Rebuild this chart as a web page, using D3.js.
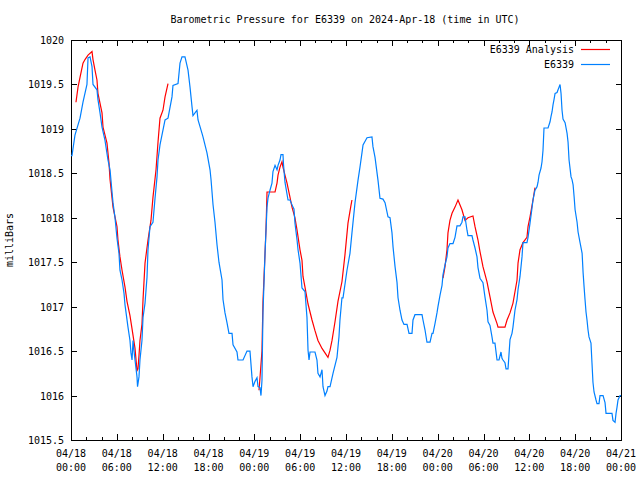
<!DOCTYPE html>
<html><head><meta charset="utf-8">
<script src="https://cdn.jsdelivr.net/npm/d3@7"></script>
<style>body{margin:0;background:#fff}svg{display:block}text{font-family:"DejaVu Sans Mono",monospace;font-size:10px;fill:#000}</style>
</head><body><svg id="c" width="640" height="480"></svg>
<script>
// hours since 2024-04-18 00:00 UTC
const obsHours = [0,0.13,0.52,1.18,1.57,2.09,2.23,2.49,2.75,2.88,3.40,3.53,3.80,4.06,4.45,4.84,5.11,5.37,5.50,5.76,6.02,6.28,6.41,6.68,6.94,7.07,7.46,7.72,7.85,7.99,8.12,8.25,8.38,8.64,8.71,8.90,9.03,9.29,9.43,9.69,9.95,10.08,10.34,10.73,11.00,11.26,11.39,11.65,12.31,12.70,13.22,13.35,14.01,14.27,14.53,14.92,15.32,15.58,15.84,15.97,16.49,16.63,17.15,17.28,17.80,18.20,18.33,18.59,18.85,19.11,19.37,19.77,19.90,20.16,20.42,20.68,21.08,21.21,21.73,21.86,22.52,23.04,23.43,23.69,23.83,24.09,24.35,24.48,24.74,24.87,25.00,25.13,25.40,25.66,25.79,26.05,26.31,26.44,26.71,26.97,27.10,27.36,27.49,27.75,27.82,28.01,28.41,28.67,29.06,29.19,29.32,29.59,29.72,29.98,30.24,30.63,30.89,31.03,31.16,31.29,31.94,32.20,32.33,32.60,32.86,32.99,33.25,33.51,33.64,33.91,34.30,34.82,35.08,35.21,35.47,35.61,36.13,36.52,36.78,37.18,37.57,37.83,38.09,38.23,38.75,39.40,39.53,39.80,40.19,40.45,40.84,41.11,41.50,41.76,42.02,42.16,42.42,42.68,42.81,43.07,43.33,43.59,43.99,44.25,44.64,44.77,45.03,45.95,46.08,46.34,46.60,47.00,47.26,47.39,47.65,47.91,48.04,48.31,48.57,48.70,48.96,49.22,49.35,49.61,50.01,50.27,50.53,50.92,51.18,51.31,51.58,51.84,51.97,52.49,52.62,52.89,53.15,53.28,53.54,53.93,54.19,54.46,54.59,54.85,55.11,55.24,55.50,55.77,56.03,56.29,56.42,56.55,56.81,56.95,57.21,57.47,57.73,57.86,58.12,58.39,58.52,58.78,59.04,59.17,59.69,59.83,60.09,60.35,60.48,60.74,61.01,61.14,61.27,61.53,61.66,61.79,61.92,62.45,62.71,62.84,62.97,63.10,63.23,63.37,63.63,63.76,63.89,64.02,64.15,64.28,64.41,64.68,64.94,65.07,65.20,65.46,65.59,65.73,65.86,65.99,66.25,66.38,66.64,66.91,67.04,67.17,67.29,67.42,67.55,67.68,67.81,68.07,68.20,68.33,68.47,68.73,68.86,69.12,69.25,69.65,69.91,70.04,70.82,70.95,71.22,71.35,71.48,71.61,71.87,72.00];
const obsPressure = [1018.7,1018.7,1018.93,1019.12,1019.3,1019.5,1019.8,1019.81,1019.7,1019.5,1019.44,1019.33,1019.18,1019.02,1018.87,1018.65,1018.54,1018.29,1018.17,1018.0,1017.77,1017.6,1017.41,1017.3,1017.15,1017.02,1016.77,1016.62,1016.48,1016.4,1016.62,1016.5,1016.4,1016.21,1016.1,1016.21,1016.4,1016.62,1016.88,1017.04,1017.33,1017.64,1017.9,1017.95,1018.22,1018.46,1018.65,1018.82,1019.1,1019.12,1019.36,1019.49,1019.51,1019.74,1019.81,1019.81,1019.66,1019.47,1019.25,1019.15,1019.21,1019.1,1018.95,1018.91,1018.73,1018.54,1018.43,1018.15,1017.95,1017.7,1017.5,1017.3,1017.08,1016.93,1016.82,1016.7,1016.7,1016.57,1016.49,1016.4,1016.4,1016.5,1016.5,1016.21,1016.1,1016.16,1016.2,1016.1,1016.09,1016.0,1016.17,1016.93,1017.6,1018.12,1018.22,1018.31,1018.39,1018.52,1018.59,1018.54,1018.59,1018.65,1018.71,1018.71,1018.6,1018.4,1018.2,1018.2,1018.12,1018.1,1017.94,1017.75,1017.64,1017.49,1017.21,1017.17,1016.88,1016.51,1016.4,1016.49,1016.49,1016.4,1016.25,1016.21,1016.29,1016.1,1016.0,1016.05,1016.1,1016.1,1016.25,1016.43,1016.66,1016.85,1017.1,1017.1,1017.41,1017.6,1017.83,1018.17,1018.42,1018.57,1018.73,1018.82,1018.9,1018.91,1018.8,1018.68,1018.42,1018.22,1018.21,1018.17,1018.01,1018.0,1017.83,1017.67,1017.45,1017.27,1017.1,1016.96,1016.85,1016.8,1016.8,1016.7,1016.7,1016.85,1016.91,1016.91,1016.85,1016.74,1016.6,1016.6,1016.7,1016.7,1016.81,1016.93,1017.0,1017.13,1017.24,1017.36,1017.47,1017.56,1017.66,1017.71,1017.71,1017.78,1017.91,1017.91,1017.95,1018.01,1018.01,1017.86,1017.8,1017.8,1017.75,1017.66,1017.56,1017.44,1017.32,1017.27,1017.11,1016.96,1016.83,1016.79,1016.66,1016.59,1016.59,1016.4,1016.4,1016.49,1016.42,1016.4,1016.37,1016.3,1016.3,1016.63,1016.7,1016.77,1016.96,1017.08,1017.19,1017.34,1017.56,1017.72,1017.72,1017.78,1017.94,1018.11,1018.2,1018.31,1018.35,1018.4,1018.48,1018.56,1018.63,1018.76,1019.01,1019.01,1019.08,1019.14,1019.19,1019.27,1019.33,1019.4,1019.41,1019.44,1019.47,1019.5,1019.4,1019.21,1019.11,1019.07,1018.95,1018.85,1018.65,1018.46,1018.43,1018.37,1018.24,1018.09,1017.95,1017.84,1017.72,1017.6,1017.38,1017.22,1017.08,1016.94,1016.85,1016.74,1016.66,1016.59,1016.37,1016.15,1016.04,1015.95,1015.91,1015.91,1016.0,1016.0,1015.92,1015.8,1015.8,1015.72,1015.7,1015.8,1015.87,1015.95,1016.0,1016.0];

// analysis segments (null = gap)
const anaHours = [0.65,0.92,1.18,1.57,1.83,2.23,2.75,2.88,3.14,3.40,3.53,4.06,4.19,4.71,4.97,5.11,5.50,6.02,6.15,6.41,6.68,7.07,7.33,7.72,7.99,8.38,8.64,8.77,8.90,9.03,9.29,9.43,9.69,10.08,10.47,10.73,11.13,11.39,11.65,12.04,12.31,12.70,
  null,
  24.61,24.74,25.00,25.13,25.40,25.53,25.66,26.71,26.97,27.10,27.36,27.62,27.75,28.01,28.28,28.67,28.93,29.32,29.59,29.98,30.24,30.37,30.63,31.03,31.55,31.94,32.33,32.86,33.25,33.64,33.91,34.17,34.56,34.95,35.47,35.86,36.26,36.65,36.78,
  null,
  48.70,48.96,49.22,49.35,49.61,49.88,50.27,50.66,51.18,51.58,51.97,52.62,52.89,53.28,53.54,53.93,54.46,54.85,55.24,55.77,55.90,56.81,57.08,57.47,57.86,58.39,58.52,58.78,59.17,59.69,59.83,60.09,60.48,60.74];
const anaPressure = [1019.3,1019.47,1019.58,1019.74,1019.78,1019.83,1019.87,1019.78,1019.66,1019.55,1019.4,1019.18,1019.02,1018.84,1018.62,1018.43,1018.12,1017.9,1017.75,1017.56,1017.41,1017.22,1017.06,1016.9,1016.75,1016.53,1016.28,1016.3,1016.45,1016.62,1016.8,1017.08,1017.49,1017.75,1017.97,1018.23,1018.54,1018.85,1019.12,1019.21,1019.36,1019.51,
  null,
  1016.06,1016.2,1016.5,1017.05,1017.6,1017.88,1018.29,1018.29,1018.39,1018.48,1018.57,1018.63,1018.57,1018.48,1018.39,1018.23,1018.12,1018.0,1017.86,1017.64,1017.52,1017.34,1017.22,1017.03,1016.85,1016.73,1016.62,1016.53,1016.48,1016.43,1016.51,1016.62,1016.83,1017.06,1017.28,1017.58,1017.94,1018.14,1018.2,
  null,
  1017.32,1017.45,1017.64,1017.83,1017.97,1018.05,1018.12,1018.2,1018.09,1017.97,1018.0,1018.02,1017.9,1017.75,1017.62,1017.45,1017.28,1017.11,1016.94,1016.81,1016.77,1016.77,1016.85,1016.93,1017.04,1017.3,1017.49,1017.64,1017.72,1017.78,1017.9,1018.01,1018.2,1018.34];

const yTicks = [1015.5,1016,1016.5,1017,1017.5,1018,1018.5,1019,1019.5,1020];
const xTickHours = [0,6,12,18,24,30,36,42,48,54,60,66,72];
const xTickDates = ["04/18","04/18","04/18","04/18","04/19","04/19","04/19","04/19","04/20","04/20","04/20","04/20","04/21"];
const xTickTimes = ["00:00","06:00","12:00","18:00","00:00","06:00","12:00","18:00","00:00","06:00","12:00","18:00","00:00"];
const titleText = "Barometric Pressure for E6339 on 2024-Apr-18 (time in UTC)";
const seriesNames = ["E6339 Analysis","E6339"];
const seriesColors = ["#ff0000","#0080ff"];

const svg = d3.select("#c");
const L=71,R=621,T=40,B=440;
const x = d3.scaleLinear().domain([0,72]).range([L,R]);
const y = d3.scaleLinear().domain([1015.5,1020]).range([B,T]);

// frame
svg.append("rect").attr("x",L+0.5).attr("y",T+0.5).attr("width",R-L).attr("height",B-T)
  .attr("fill","none").attr("stroke","#000").attr("stroke-width",1);

// y ticks (both sides, inward)
yTicks.forEach(v=>{
  const yy=Math.round(y(v))+0.5;
  svg.append("line").attr("x1",L).attr("x2",L+6).attr("y1",yy).attr("y2",yy).attr("stroke","#000");
  svg.append("line").attr("x1",R-5).attr("x2",R+1).attr("y1",yy).attr("y2",yy).attr("stroke","#000");
  svg.append("text").attr("x",L-7).attr("y",yy+3.5).attr("text-anchor","end").text(d3.format("")(v));
});
// x minor ticks every 2h
d3.range(0,73,2).forEach(h=>{
  const major = h%6===0;
  const len = major?6:3;
  const xx=Math.round(x(h))+0.5;
  svg.append("line").attr("x1",xx).attr("x2",xx).attr("y1",B).attr("y2",B-len).attr("stroke","#000");
  svg.append("line").attr("x1",xx).attr("x2",xx).attr("y1",T).attr("y2",T+len).attr("stroke","#000");
});
xTickHours.forEach((h,i)=>{
  const xx=x(h);
  svg.append("text").attr("x",xx).attr("y",457).attr("text-anchor","middle").text(xTickDates[i]);
  svg.append("text").attr("x",xx).attr("y",471).attr("text-anchor","middle").text(xTickTimes[i]);
});

// title & axis label
svg.append("text").attr("x",345).attr("y",23).attr("text-anchor","middle").text(titleText);
svg.append("text").attr("transform","translate(13,240) rotate(-90)").attr("text-anchor","middle").text("milliBars");

// lines
const clip = svg.append("clipPath").attr("id","pc").append("rect").attr("x",L).attr("y",T).attr("width",R-L+1).attr("height",B-T+1);
const anaData = anaHours.map((h,i)=>({h,v:anaPressure[i]}));
const obsData = obsHours.map((h,i)=>({h,v:obsPressure[i]}));
const line = d3.line().defined(d=>d.h!==null && d.v!==null).x(d=>x(d.h)).y(d=>y(d.v));
svg.append("path").attr("d",line(anaData)).attr("fill","none").attr("stroke",seriesColors[0]).attr("stroke-width",1.2).attr("clip-path","url(#pc)");
svg.append("path").attr("d",line(obsData)).attr("fill","none").attr("stroke",seriesColors[1]).attr("stroke-width",1.2).attr("clip-path","url(#pc)");

// legend
seriesNames.forEach((n,i)=>{
  const yy = 49.5 + i*15;
  svg.append("text").attr("x",574).attr("y",yy+3.5).attr("text-anchor","end").text(n);
  svg.append("line").attr("x1",581).attr("x2",610).attr("y1",yy).attr("y2",yy).attr("stroke",seriesColors[i]).attr("stroke-width",1.2);
});
</script></body></html>
